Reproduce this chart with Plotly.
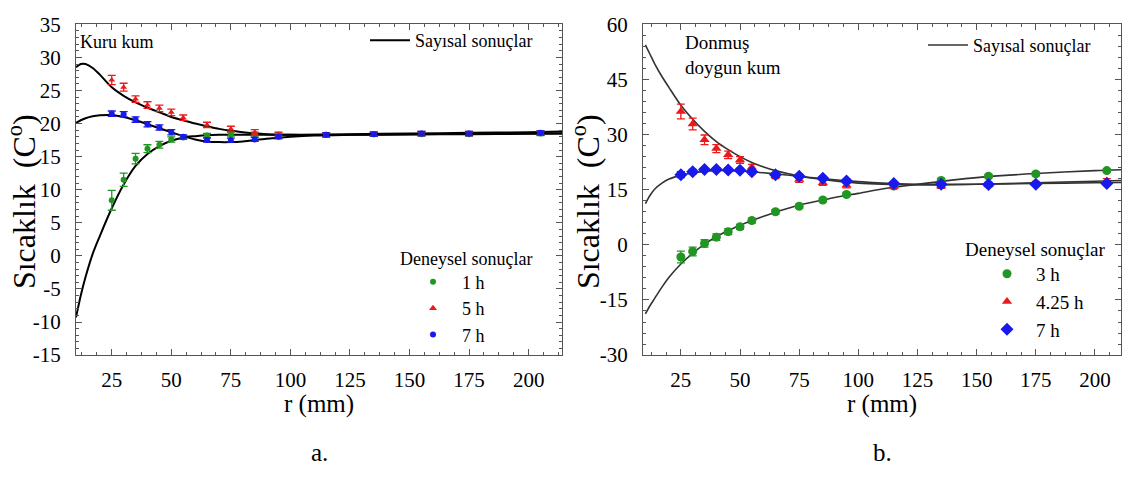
import plotly.graph_objects as go

# ---------------- data ----------------
r_exp = [25, 30, 35, 40, 45, 50, 55, 65, 75, 85, 95, 115, 135, 155, 175, 205]
r_num = [10, 12, 14, 17, 20, 25, 30, 35, 40, 45, 50, 55, 60, 65, 70, 75, 80, 90, 100, 110, 125, 150, 175, 200, 215]

# panel a (Kuru kum)
a_1h = [8.4, 11.5, 14.7, 16.2, 16.8, 17.6, 17.9, 18.2, 18.4, 18.4, 18.3, 18.3, 18.4, 18.4, 18.4, 18.5]
a_1h_err = [1.5, 1.0, 0.8, 0.6, 0.5, 0.4, 0.3, 0.3, 0.3, 0.3, 0.3, 0.3, 0.3, 0.3, 0.3, 0.3]
a_5h = [26.6, 25.5, 23.7, 22.8, 22.3, 21.7, 20.9, 19.8, 19.2, 18.7, 18.4, 18.3, 18.4, 18.5, 18.5, 18.6]
a_5h_err = [0.7, 0.6, 0.5, 0.5, 0.5, 0.5, 0.4, 0.4, 0.4, 0.4, 0.3, 0.3, 0.3, 0.3, 0.3, 0.3]
a_7h = [21.5, 21.4, 20.6, 19.9, 19.4, 18.7, 18.0, 17.5, 17.5, 17.6, 18.0, 18.3, 18.4, 18.5, 18.5, 18.6]
a_7h_err = [0.4, 0.4, 0.4, 0.4, 0.4, 0.4, 0.3, 0.3, 0.3, 0.3, 0.3, 0.3, 0.3, 0.3, 0.3, 0.3]

a_num_1h = [-9.3, -6.0, -3.2, 0.3, 3.0, 7.2, 10.8, 13.6, 15.4, 16.6, 17.4, 17.9, 18.1, 18.25, 18.3, 18.3,
            18.3, 18.3, 18.3, 18.3, 18.3, 18.35, 18.4, 18.45, 18.5]
a_num_5h = [28.5, 29.0, 29.0, 28.4, 27.4, 25.5, 24.2, 23.2, 22.4, 21.7, 21.0, 20.5, 20.0, 19.6, 19.2, 18.9,
            18.7, 18.4, 18.3, 18.3, 18.4, 18.5, 18.6, 18.7, 18.8]
a_num_7h = [20.1, 20.5, 20.8, 21.1, 21.25, 21.3, 21.0, 20.5, 19.9, 19.3, 18.7, 18.1, 17.6, 17.3, 17.2, 17.2,
            17.3, 17.7, 18.0, 18.2, 18.3, 18.4, 18.45, 18.5, 18.5]

# panel b (Donmus doygun kum)
b_3h = [-3.3, -1.8, 0.4, 2.1, 3.6, 4.9, 6.6, 9.0, 10.5, 12.2, 13.7, 16.0, 17.5, 18.7, 19.3, 20.2]
b_3h_err = [1.6, 1.2, 1.0, 0.9, 0.8, 0.7, 0.7, 0.6, 0.6, 0.5, 0.5, 0.5, 0.5, 0.5, 0.5, 0.5]
b_425h = [36.3, 32.9, 28.6, 26.2, 24.5, 23.1, 21.1, 18.8, 17.8, 16.9, 16.2, 15.9, 16.0, 16.4, 16.7, 17.4]
b_425h_err = [2.0, 1.6, 1.3, 1.1, 1.0, 0.9, 0.8, 0.8, 0.8, 0.7, 0.7, 0.6, 0.6, 0.6, 0.6, 0.6]
b_7h = [19.1, 19.9, 20.5, 20.5, 20.4, 20.3, 19.9, 19.1, 18.7, 18.1, 17.4, 16.7, 16.5, 16.4, 16.5, 16.7]
b_7h_err = [0.8, 0.6, 0.5, 0.5, 0.5, 0.5, 0.5, 0.5, 0.5, 0.5, 0.5, 0.4, 0.4, 0.4, 0.4, 0.4]

b_num_3h = [-18.8, -16.5, -14.5, -11.5, -8.8, -5.2, -2.3, 0.2, 2.2, 3.9, 5.3, 6.6, 7.8, 8.9, 9.9, 10.8,
            11.5, 12.9, 14.0, 15.2, 16.5, 18.3, 19.4, 20.2, 20.5]
b_num_425h = [54.4, 51.8, 49.2, 45.8, 42.8, 38.0, 34.2, 30.9, 28.1, 25.9, 24.0, 22.4, 21.2, 20.2, 19.4, 18.7,
              18.2, 17.4, 16.8, 16.5, 16.3, 16.5, 16.9, 17.3, 17.6]
b_num_7h = [11.2, 13.5, 15.2, 16.8, 17.9, 18.9, 19.6, 20.0, 20.2, 20.2, 20.1, 19.9, 19.6, 19.3, 19.0, 18.6,
            18.3, 17.7, 17.2, 16.8, 16.5, 16.5, 16.7, 16.9, 17.0]

x_ticks = [25, 50, 75, 100, 125, 150, 175, 200]
a_y_ticks = [-15, -10, -5, 0, 5, 10, 15, 20, 25, 30, 35]
a_y_labels = ["-15", "-10", "-5", "0", "5", "10", "15", "20", "25", "30", "35"]
b_y_ticks = [-30, -15, 0, 15, 30, 45, 60]
b_y_labels = ["-30", "-15", "0", "15", "30", "45", "60"]

a_names = ["1 h", "5 h", "7 h"]
b_names = ["3 h", "4.25 h", "7 h"]

# ---------------- style ----------------
FONT = "Times New Roman, Liberation Serif, serif"
GREEN = "rgb(34,150,34)"
RED = "rgb(235,25,25)"
BLUE = "rgb(25,25,235)"
W, H = 1136, 484

fig = go.Figure()

def add_exp(x, y, err, color, symbol, size, xa, ya):
    fig.add_trace(go.Scatter(
        x=x, y=y, mode="markers", xaxis=xa, yaxis=ya, showlegend=False,
        marker=dict(color=color, symbol=symbol, size=size, line=dict(width=0)),
        error_y=dict(type="data", array=err, color=color, thickness=1.3, width=4),
    ))

def add_num(y, xa, ya, color, width, show, legend):
    fig.add_trace(go.Scatter(
        x=r_num, y=y, mode="lines", line=dict(color=color, width=width, shape="spline", smoothing=0.8),
        xaxis=xa, yaxis=ya, showlegend=show, name="Sayısal sonuçlar", legend=legend,
    ))

# panel a curves
add_num(a_num_1h, "x", "y", "black", 2, True, "legend")
add_num(a_num_5h, "x", "y", "black", 2, False, "legend")
add_num(a_num_7h, "x", "y", "black", 2, False, "legend")
# panel b curves
add_num(b_num_3h, "x2", "y2", "#333333", 1.6, True, "legend3")
add_num(b_num_425h, "x2", "y2", "#333333", 1.6, False, "legend3")
add_num(b_num_7h, "x2", "y2", "#333333", 1.6, False, "legend3")

# experimental points
add_exp(r_exp, a_1h, a_1h_err, GREEN, "circle", 6, "x", "y")
add_exp(r_exp, a_5h, a_5h_err, RED, "triangle-up", 6, "x", "y")
add_exp(r_exp, a_7h, a_7h_err, BLUE, "circle", 6, "x", "y")
add_exp(r_exp, b_3h, b_3h_err, GREEN, "circle", 9, "x2", "y2")
add_exp(r_exp, b_425h, b_425h_err, RED, "triangle-up", 9, "x2", "y2")
add_exp(r_exp, b_7h, b_7h_err, BLUE, "diamond", 10, "x2", "y2")

# legend entries for experimental series (no error bars in legend)
for name, color, sym, size in zip(a_names, [GREEN, RED, BLUE], ["circle", "triangle-up", "circle"], [6, 7, 6]):
    fig.add_trace(go.Scatter(x=[None], y=[None], mode="markers", name=name, legend="legend2",
                             marker=dict(color=color, symbol=sym, size=size), xaxis="x", yaxis="y"))
for name, color, sym, size in zip(b_names, [GREEN, RED, BLUE], ["circle", "triangle-up", "diamond"], [9, 9, 10]):
    fig.add_trace(go.Scatter(x=[None], y=[None], mode="markers", name=name, legend="legend4",
                             marker=dict(color=color, symbol=sym, size=size), xaxis="x2", yaxis="y2"))

axis_common = dict(
    showline=True, linecolor="#555555", linewidth=1, mirror="allticks",
    ticks="inside", ticklen=6, tickcolor="#555555", tickwidth=1,
    showgrid=False, zeroline=False,
    tickfont=dict(family=FONT, size=21, color="black"),
    minor=dict(ticks="inside", ticklen=3, tickcolor="#555555", tickwidth=1, showgrid=False),
)

ydom = [1 - 361 / H, 1 - 13 / H]
fig.update_layout(
    width=W, height=H, margin=dict(l=0, r=0, t=0, b=0),
    paper_bgcolor="white", plot_bgcolor="white",
    font=dict(family=FONT, color="black"),
    xaxis=dict(domain=[76 / W, 562 / W], range=[10, 214], tickvals=x_ticks, anchor="y",
               ticklabelstandoff=6, **{**axis_common, "minor": dict(axis_common["minor"], dtick=6.25, tick0=0)}),
    yaxis=dict(domain=ydom, range=[-15, 35], tickvals=a_y_ticks, ticktext=a_y_labels, anchor="x",
               ticklabelstandoff=10, **{**axis_common, "minor": dict(axis_common["minor"], dtick=1, tick0=0)}),
    xaxis2=dict(domain=[643 / W, 1121 / W], range=[9, 211], tickvals=x_ticks, anchor="y2",
                ticklabelstandoff=6, **{**axis_common, "minor": dict(axis_common["minor"], dtick=6.25, tick0=0)}),
    yaxis2=dict(domain=ydom, range=[-30, 60], tickvals=b_y_ticks, ticktext=b_y_labels, anchor="x2",
                ticklabelstandoff=10, **{**axis_common, "minor": dict(axis_common["minor"], dtick=3, tick0=0)}),
    legend=dict(x=365 / W, y=1 - 30 / H, xanchor="left", yanchor="middle", bgcolor="rgba(0,0,0,0)",
                font=dict(family=FONT, size=18), itemwidth=40),
    legend3=dict(x=923 / W, y=1 - 35 / H, xanchor="left", yanchor="middle", bgcolor="rgba(0,0,0,0)",
                 font=dict(family=FONT, size=18), itemwidth=40),
    legend2=dict(x=404 / W, y=1 - 312 / H, xanchor="left", yanchor="middle", bgcolor="rgba(0,0,0,0)",
                 font=dict(family=FONT, size=18), itemwidth=48, tracegroupgap=0),
    legend4=dict(x=978 / W, y=1 - 305 / H, xanchor="left", yanchor="middle", bgcolor="rgba(0,0,0,0)",
                 font=dict(family=FONT, size=19), itemwidth=48, tracegroupgap=0),
)

def note(text, x, y, size, xanchor="center", angle=0, yanchor="middle", align="left"):
    fig.add_annotation(text=text, x=x / W, y=1 - y / H, xref="paper", yref="paper", showarrow=False,
                       xanchor=xanchor, yanchor=yanchor, textangle=angle, align=align,
                       font=dict(family=FONT, size=size, color="black"))

note("Kuru kum", 78, 32, 18, xanchor="left")
note("Donmuş<br>doygun kum", 683, 45, 19, xanchor="left")
note("Deneysel sonuçlar", 398, 260, 18, xanchor="left")
note("Deneysel sonuçlar", 963, 250, 19, xanchor="left")
note("r (mm)", 319, 412, 25)
note("r (mm)", 882, 412, 25)
note("Sıcaklık  (C<sup>o</sup>)", 22, 200, 32, angle=-90)
note("Sıcaklık  (C<sup>o</sup>)", 586, 200, 32, angle=-90)
note("a.", 319, 464, 25)
note("b.", 882, 464, 25)

fig.write_html("out.html", config={"displayModeBar": False},
               post_script="document.body.style.margin='0';")
